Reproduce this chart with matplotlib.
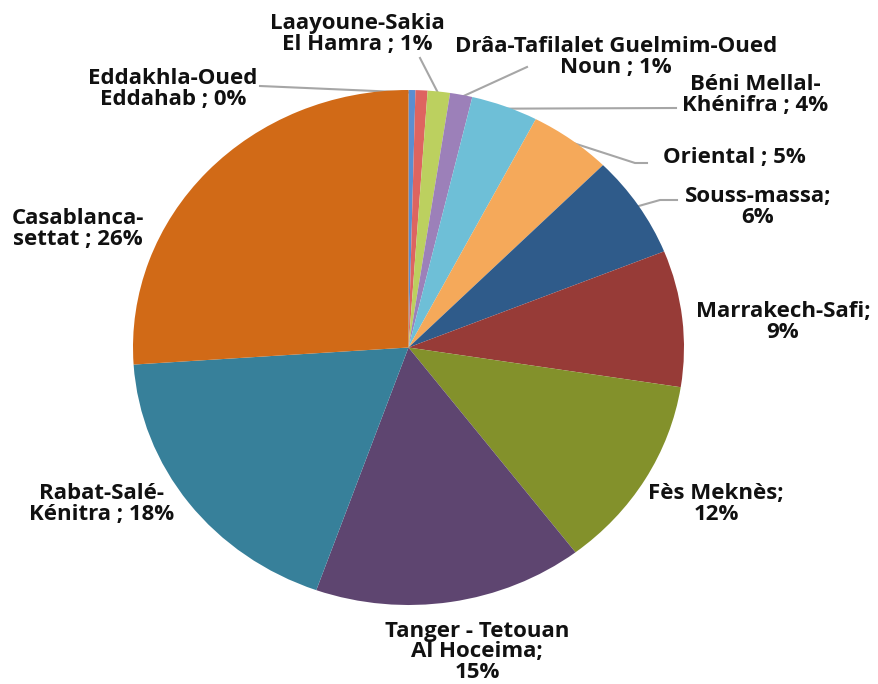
import matplotlib
matplotlib.use("Agg")
import matplotlib.pyplot as plt
import numpy as np

# data (share of total, clockwise from top)
regions = ["Eddakhla-Oued Eddahab", "Drâa-Tafilalet", "Laayoune-Sakia El Hamra",
           "Guelmim-Oued Noun", "Béni Mellal-Khénifra", "Oriental", "Souss-massa",
           "Marrakech-Safi", "Fès Meknès", "Tanger - Tetouan Al Hoceima",
           "Rabat-Salé-Kénitra", "Casablanca-settat"]
shares = [0.4, 0.7, 1.3, 1.3, 3.9, 4.8, 6.4, 8.5, 12.1, 15.7, 18.4, 25.9]
labels = ["Eddakhla-Oued\nEddahab ; 0%", "", "Laayoune-Sakia\nEl Hamra ; 1%",
          "Drâa-Tafilalet Guelmim-Oued\nNoun ; 1%", "Béni Mellal-\nKhénifra ; 4%",
          "Oriental ; 5%", "Souss-massa;\n6%", "Marrakech-Safi;\n9%",
          "Fès Meknès;\n12%", "Tanger - Tetouan\nAl Hoceima;\n15%",
          "Rabat-Salé-\nKénitra ; 18%", "Casablanca-\nsettat ; 26%"]
colors = ["#5B8ED0", "#DE6460", "#BCD05F", "#9C80B9", "#6EBFD7", "#F5A95A",
          "#2F5B8A", "#973B37", "#83912B", "#5E4570", "#37809A", "#D16A17"]

# layout (pixels from top-left) for label centers
label_pos = [(173, 89), None, (357, 34), (616, 57), (755, 95), (734, 158),
             (758, 207), (783, 322), (716, 504), (477, 652), (102, 504), (78, 229)]
# leader lines: label-side points (pixels from top-left)
leaders = {0: [(260, 86)], 2: [(420, 58)], 3: [(527, 67)], 4: [(676, 108)],
           5: [(647, 163), (635, 163)], 6: [(677, 200), (660, 200)]}

W, H = 879, 684
fig = plt.figure(figsize=(W / 100, H / 100), dpi=100)
fig.patch.set_facecolor("white")
ax = fig.add_axes([133 / W, (H - 605) / H, 551 / W, 515 / H])
wedges, _ = ax.pie(shares, colors=colors, startangle=90, counterclock=False,
                   wedgeprops=dict(linewidth=0))
ax.set_aspect("auto")
ax.set_xlim(-1, 1)
ax.set_ylim(-1, 1)
ax.axis("off")

inv = ax.transData.inverted()
for i, pts in leaders.items():
    w = wedges[i]
    mid = np.deg2rad((w.theta1 + w.theta2) / 2)
    end = (0.99 * np.cos(mid), 0.99 * np.sin(mid))
    data_pts = [inv.transform((px, H - py)) for px, py in pts]
    xs = [p[0] for p in data_pts] + [end[0]]
    ys = [p[1] for p in data_pts] + [end[1]]
    ax.plot(xs, ys, color="#A6A6A6", lw=1.5, clip_on=False, zorder=0)

for lab, pos in zip(labels, label_pos):
    if not lab or pos is None:
        continue
    fig.text(pos[0] / W, 1 - pos[1] / H, lab, ha="center", va="center",
             fontsize=16, fontweight="bold", family="Open Sans", color="#111111",
             linespacing=0.98)

fig.savefig("out.png", dpi=100)
